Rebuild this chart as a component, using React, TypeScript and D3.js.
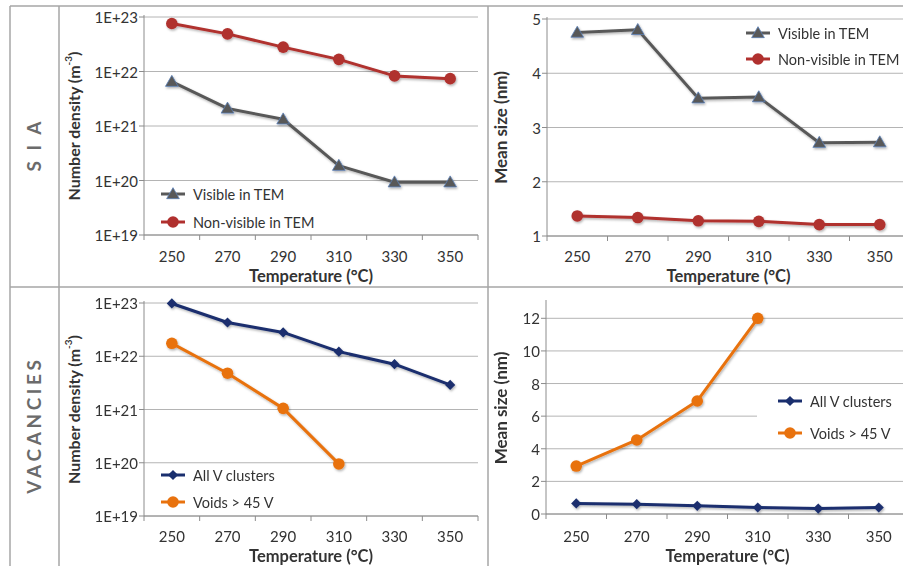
import React from "react";
import * as d3 from "d3";

// temperatures (categories)
const temps = ["250", "270", "290", "310", "330", "350"];

// SIA
const siaDensityVisible = [6.5e21, 2.1e21, 1.33e21, 1.87e20, 9.3e19, 9.3e19];
const siaDensityNonVisible = [7.6e22, 4.9e22, 2.8e22, 1.67e22, 8.3e21, 7.4e21];
const siaSizeVisible = [4.75, 4.8, 3.54, 3.56, 2.72, 2.73];
const siaSizeNonVisible = [1.37, 1.34, 1.28, 1.27, 1.21, 1.21];

// vacancies
const vacDensityAll = [9.8e22, 4.3e22, 2.8e22, 1.22e22, 7.1e21, 2.9e21];
const vacDensityVoids = [1.75e22, 4.8e21, 1.05e21, 9.5e19];
const vacSizeAll = [0.65, 0.6, 0.5, 0.4, 0.33, 0.4];
const vacSizeVoids = [2.94, 4.54, 6.93, 12.0];

const densityTicks = [1e19, 1e20, 1e21, 1e22, 1e23];
const siaSizeTicks = [1, 2, 3, 4, 5];
const vacSizeTicks = [0, 2, 4, 6, 8, 10, 12];

const FONT = "Lato, 'Open Sans', sans-serif";
const GRID = "#b4b4b4";
const AXIS = "#8c8c8c";
const TXT = "#333333";
const FRAME = "#a6a6a6";

const GRAY = "#595959";
const RED = "#b0302e";
const NAVY = "#1a2f6e";
const ORANGE = "#e8720e";

function Marker({ shape, color, x, y }) {
  if (shape === "triangle") {
    const p = d3.symbol(d3.symbolTriangle, 70)();
    return <path d={p} transform={`translate(${x},${y + 1})`} fill={color} stroke="#5b7fb5" strokeWidth={0.8} />;
  }
  if (shape === "diamond") {
    const p = d3.symbol(d3.symbolSquare, 52)();
    return <path d={p} transform={`translate(${x},${y}) rotate(45)`} fill={color} />;
  }
  return <circle cx={x} cy={y} r={5.8} fill={color} />;
}

function Panel({ left, top, bottom, width, y, ticks, fmt, series, yTitle, titleX, titleSize, labelY, legend }) {
  const x = d3.scaleBand().domain(temps).range([left, left + width]);
  const yScale = y.range([bottom, top]);
  const line = d3
    .line<number>()
    .x((d, i) => x(temps[i])! + x.bandwidth() / 2)
    .y(d => yScale(d));
  const bounds = d3.range(temps.length + 1).map(i => left + i * x.bandwidth());
  const midY = (top + bottom) / 2;

  return (
    <g fontFamily={FONT}>
      {ticks.map(t => (
        <line key={"g" + t} x1={left} x2={left + width} y1={yScale(t)} y2={yScale(t)} stroke={GRID} strokeWidth={1} />
      ))}
      <line x1={left} x2={left} y1={top - 2} y2={bottom} stroke={AXIS} />
      <line x1={left} x2={left + width} y1={bottom} y2={bottom} stroke={AXIS} />
      {ticks.map(t => (
        <g key={"t" + t}>
          <line x1={left - 5} x2={left} y1={yScale(t)} y2={yScale(t)} stroke={AXIS} />
          <text x={left - 6} y={yScale(t)} textAnchor="end" dominantBaseline="central" fontSize={15} fill={TXT}>
            {fmt(t)}
          </text>
        </g>
      ))}
      {bounds.map(b => (
        <line key={"b" + b} x1={b} x2={b} y1={bottom} y2={bottom + 5} stroke={AXIS} />
      ))}
      {temps.map(c => (
        <text key={c} x={x(c)! + x.bandwidth() / 2} y={labelY} textAnchor="middle" dominantBaseline="central" fontSize={15} fill={TXT}>
          {c}
        </text>
      ))}
      <text x={left + width / 2} y={labelY + 20} textAnchor="middle" dominantBaseline="central" fontSize={16.5} fontWeight="bold" fill={TXT}>
        Temperature (°C)
      </text>
      <text transform={`translate(${titleX},${midY}) rotate(-90)`} textAnchor="middle" dominantBaseline="central" fontSize={titleSize} fontWeight="bold" fill={TXT}>
        {yTitle}
      </text>

      {legend.bg && <rect x={legend.bg[0]} y={legend.bg[1]} width={legend.bg[2]} height={legend.bg[3]} fill="#fff" />}

      <g filter="url(#shadow)">
        {series.map(s => (
          <g key={s.name}>
            <path d={line(s.values)!} fill="none" stroke={s.color} strokeWidth={3} strokeLinejoin="round" />
            {s.values.map((v, i) => (
              <Marker key={i} shape={s.shape} color={s.color} x={x(temps[i])! + x.bandwidth() / 2} y={yScale(v)} />
            ))}
          </g>
        ))}
      </g>

      {series.map((s, i) => {
        const ly = legend.y[i];
        return (
          <g key={"l" + s.name}>
            <line x1={legend.x} x2={legend.x + 24} y1={ly} y2={ly} stroke={s.color} strokeWidth={3} />
            <Marker shape={s.shape} color={s.color} x={legend.x + 12} y={ly} />
            <text x={legend.x + 32} y={ly} dominantBaseline="central" fontSize={14.5} fill={TXT}>
              {s.name}
            </text>
          </g>
        );
      })}
    </g>
  );
}

const logFmt = (v: number) => "1E+" + Math.round(Math.log10(v));
const numFmt = (v: number) => String(v);

const densityTitle = (
  <>
    Number density (m<tspan dy={-5} fontSize={10}>-3</tspan>
    <tspan dy={5}>)</tspan>
  </>
);

export default function App() {
  return (
    <svg width={903} height={566} style={{ position: "absolute", left: 0, top: 0, background: "#fff" }}>
      <defs>
        <filter id="shadow" x="-10%" y="-10%" width="130%" height="130%">
          <feDropShadow dx={1} dy={1.5} stdDeviation={1.2} floodColor="#000" floodOpacity={0.3} />
        </filter>
      </defs>

      {/* frame */}
      <g stroke={FRAME} strokeWidth={1.5}>
        <line x1={10} x2={903} y1={6} y2={6} />
        <line x1={10} x2={903} y1={287} y2={287} />
        <line x1={10} x2={10} y1={6} y2={566} />
        <line x1={59} x2={59} y1={6} y2={566} />
        <line x1={488} x2={488} y1={6} y2={566} />
      </g>

      <text
        transform="translate(33,145) rotate(-90)"
        textAnchor="middle"
        dominantBaseline="central"
        fontFamily={FONT}
        fontWeight="bold"
        fontSize={19}
        letterSpacing={3}
        fill="#6b6b6b"
      >
        S I A
      </text>
      <text
        transform="translate(33,425) rotate(-90)"
        textAnchor="middle"
        dominantBaseline="central"
        fontFamily={FONT}
        fontWeight="bold"
        fontSize={19}
        letterSpacing={3.6}
        fill="#6b6b6b"
      >
        VACANCIES
      </text>

      <Panel
        left={144}
        top={17}
        bottom={235}
        width={334}
        y={d3.scaleLog().domain([1e19, 1e23])}
        ticks={densityTicks}
        fmt={logFmt}
        yTitle={densityTitle}
        titleX={73}
        titleSize={16}
        labelY={256}
        series={[
          { name: "Visible in TEM", values: siaDensityVisible, color: GRAY, shape: "triangle" },
          { name: "Non-visible in TEM", values: siaDensityNonVisible, color: RED, shape: "circle" },
        ]}
        legend={{ x: 161, y: [194, 222] }}
      />
      <Panel
        left={547}
        top={19}
        bottom={236}
        width={363}
        y={d3.scaleLinear().domain([1, 5])}
        ticks={siaSizeTicks}
        fmt={numFmt}
        yTitle="Mean size (nm)"
        titleX={500}
        titleSize={17}
        labelY={256}
        series={[
          { name: "Visible in TEM", values: siaSizeVisible, color: GRAY, shape: "triangle" },
          { name: "Non-visible in TEM", values: siaSizeNonVisible, color: RED, shape: "circle" },
        ]}
        legend={{ x: 746, y: [33, 59] }}
      />
      <Panel
        left={144}
        top={303}
        bottom={516}
        width={334}
        y={d3.scaleLog().domain([1e19, 1e23])}
        ticks={densityTicks}
        fmt={logFmt}
        yTitle={densityTitle}
        titleX={73}
        titleSize={16}
        labelY={536}
        series={[
          { name: "All V clusters", values: vacDensityAll, color: NAVY, shape: "diamond" },
          { name: "Voids > 45 V", values: vacDensityVoids, color: ORANGE, shape: "circle" },
        ]}
        legend={{ x: 161, y: [475, 502] }}
      />
      <Panel
        left={546}
        top={302}
        bottom={514}
        width={363}
        y={d3.scaleLinear().domain([0, 13])}
        ticks={vacSizeTicks}
        fmt={numFmt}
        yTitle="Mean size (nm)"
        titleX={500}
        titleSize={17}
        labelY={536}
        series={[
          { name: "All V clusters", values: vacSizeAll, color: NAVY, shape: "diamond" },
          { name: "Voids > 45 V", values: vacSizeVoids, color: ORANGE, shape: "circle" },
        ]}
        legend={{ x: 778, y: [401, 433], bg: [757, 386, 146, 62] }}
      />
    </svg>
  );
}
